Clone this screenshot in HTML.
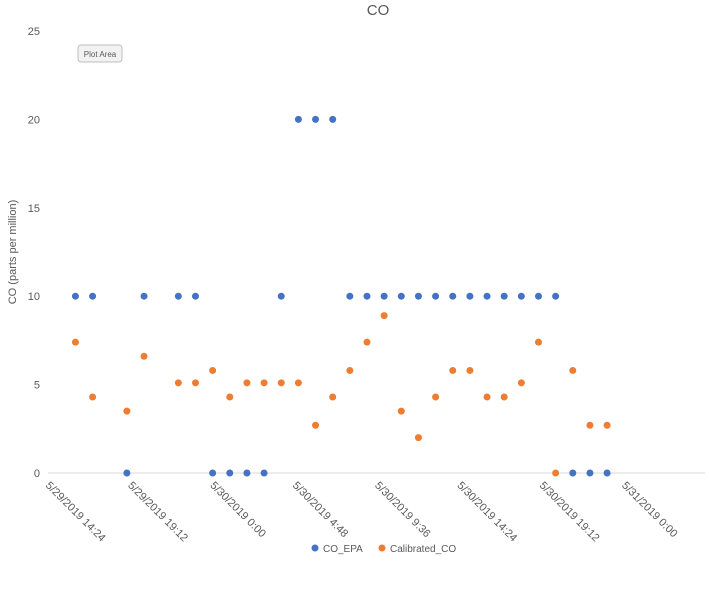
<!DOCTYPE html>
<html><head><meta charset="utf-8"><style>
body{margin:0;background:#fff;font-family:"Liberation Sans",sans-serif;}
svg text{font-family:"Liberation Sans",sans-serif;fill:#595959;}
</style></head><body>
<svg width="709" height="592">
<text x="378" y="15" font-size="15" text-anchor="middle">CO</text>
<text transform="translate(16,252) rotate(-90)" font-size="11" text-anchor="middle">CO (parts per million)</text>
<g id="yt"></g><g id="xt"></g>
<line x1="48" y1="473" x2="705" y2="473" stroke="#d9d9d9"/>
<g id="pts"></g>
<rect x="78" y="45" width="44" height="17" rx="3" fill="#f2f2f2" stroke="#bfbfbf"/>
<text x="100" y="57" font-size="8" text-anchor="middle" fill="#333">Plot Area</text>
<circle cx="315" cy="548" r="3.5" fill="#4472c4"/>
<text x="323" y="552" font-size="10">CO_EPA</text>
<circle cx="382" cy="548" r="3.5" fill="#ed7d31"/>
<text x="390" y="552" font-size="10">Calibrated_CO</text>
</svg>
<script>
const hours=[0,1,3,4,6,7,8,9,10,11,12,13,14,15,16,17,18,19,20,21,22,23,24,25,26,27,28,29,30,31];
const coEpa=[10,10,0,10,10,10,0,0,0,0,10,20,20,20,10,10,10,10,10,10,10,10,10,10,10,10,10,0,0,0];
const calibratedCo=[7.4,4.3,3.5,6.6,5.1,5.1,5.8,4.3,5.1,5.1,5.1,5.1,2.7,4.3,5.8,7.4,8.9,3.5,2.0,4.3,5.8,5.8,4.3,4.3,5.1,7.4,0,5.8,2.7,2.7];
const yTicks=[0,5,10,15,20,25];
const xTickLabels=["5/29/2019 14:24","5/29/2019 19:12","5/30/2019 0:00","5/30/2019 4:48","5/30/2019 9:36","5/30/2019 14:24","5/30/2019 19:12","5/31/2019 0:00"];
const NS="http://www.w3.org/2000/svg";
const X=h=>48+(h+1.6)*17.15;
const Y=v=>473-v*17.68;
const yt=document.getElementById('yt');
yTicks.forEach(v=>{const t=document.createElementNS(NS,'text');


t.setAttribute('x',40);t.setAttribute('y',Y(v)+4);t.setAttribute('font-size','11');t.setAttribute('text-anchor','end');t.textContent=v;yt.appendChild(t);});
const xt=document.getElementById('xt');
xTickLabels.forEach((s,i)=>{const x=48+i*4.8*17.15;const t=document.createElementNS(NS,'text');


t.setAttribute('transform','translate('+(x-3)+',486) rotate(45)');t.setAttribute('font-size','11');t.textContent=s;xt.appendChild(t);});
const g=document.getElementById('pts');
function plot(arr,col,name){arr.forEach((v,i)=>{const c=document.createElementNS(NS,'circle');


c.setAttribute('cx',X(hours[i]));c.setAttribute('cy',Y(v));c.setAttribute('r',3.5);c.setAttribute('fill',col);g.appendChild(c);});}
plot(coEpa,'#4472c4','co-epa-point');
plot(calibratedCo,'#ed7d31','calibrated-co-point');
</script>
</body></html>
